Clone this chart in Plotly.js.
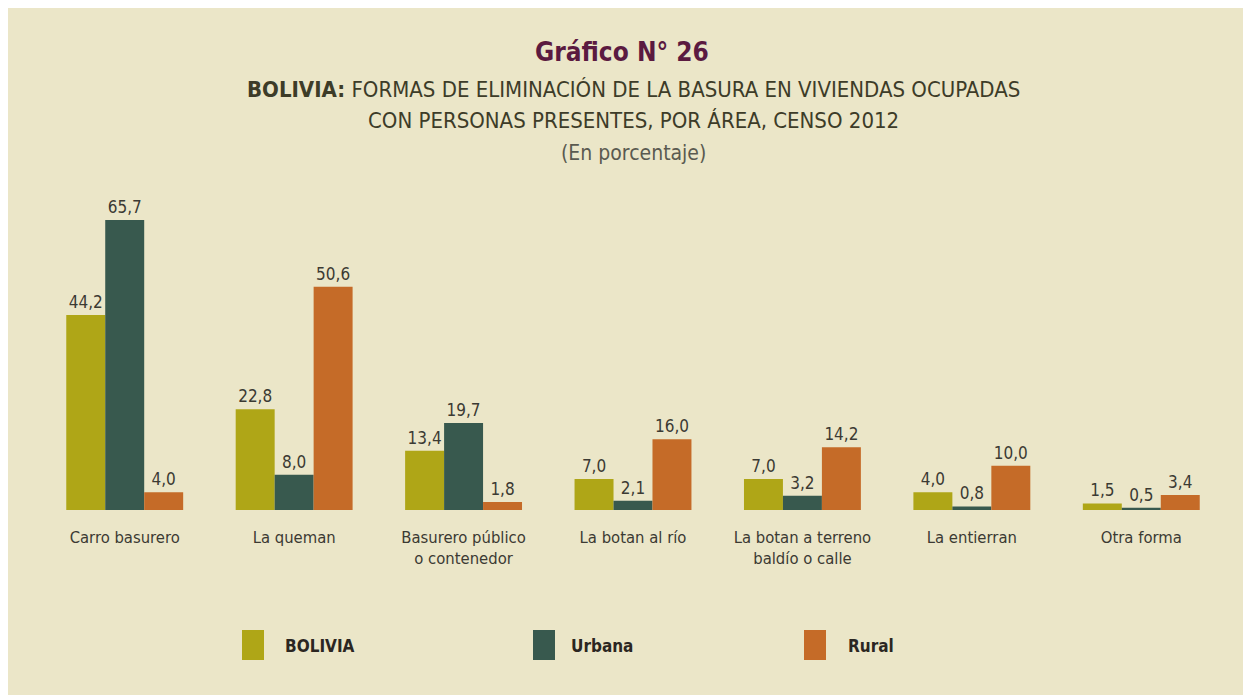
<!DOCTYPE html>
<html>
<head>
<meta charset="utf-8">
<script src="https://cdn.plot.ly/plotly-3.0.1.min.js"></script>
<style>
html,body{margin:0;padding:0;background:#ffffff;}
#chart{width:1243px;height:695px;}
</style>
</head>
<body>
<div id="chart"></div>
<script>
const categories = ["Carro basurero", "La queman", "Basurero público<br>o contenedor", "La botan al río", "La botan a terreno<br>baldío o calle", "La entierran", "Otra forma"];
const seriesNames = ["BOLIVIA", "Urbana", "Rural"];
const bolivia = [44.2, 22.8, 13.4, 7.0, 7.0, 4.0, 1.5];
const urbana = [65.7, 8.0, 19.7, 2.1, 3.2, 0.8, 0.5];
const rural = [4.0, 50.6, 1.8, 16.0, 14.2, 10.0, 3.4];
const colors = ["#afa617", "#38594e", "#c56b28"];

const W = 1243, H = 695;
const M = {l: 40, r: 17, t: 201, b: 185};
const plotW = W - M.l - M.r, plotH = H - M.t - M.b;
const px = x => (x - M.l) / plotW;
const py = y => (H - M.b - y) / plotH;

const FAM = "DejaVu Sans Condensed, Liberation Sans Narrow, sans-serif";
const labelFont = {family: FAM, size: 16.5, color: "#3b3a33"};
const valueFont = {family: FAM, size: 17, color: "#3b3a33"};
const fmt = v => v.toFixed(1).replace(".", ",");

const seriesVals = [bolivia, urbana, rural];
const traces = seriesVals.map((vals, i) => ({
  type: "bar",
  name: seriesNames[i],
  x: categories,
  y: vals,
  marker: {color: colors[i], line: {width: 0}},
  text: vals.map(fmt),
  textposition: "outside",
  textfont: valueFont,
  cliponaxis: false,
  hoverinfo: "skip",
  showlegend: false
}));

const shapes = [{
  type: "rect", xref: "paper", yref: "paper",
  x0: px(8), x1: px(W + 5), y0: py(8), y1: py(H + 5),
  fillcolor: "#ebe6c8", line: {width: 0}, layer: "below"
}];
const annotations = [
  {text: "<b>Gráfico N° 26</b>", x: px(622), y: py(52), font: {family: FAM, size: 26, color: "#5b1a40"}},
  {text: "<b>BOLIVIA:</b> FORMAS DE ELIMINACIÓN DE LA BASURA EN VIVIENDAS OCUPADAS", x: px(633), y: py(89), font: {family: FAM, size: 22, color: "#3d3c28"}},
  {text: "CON PERSONAS PRESENTES, POR ÁREA, CENSO 2012", x: px(633), y: py(121), font: {family: FAM, size: 22, color: "#3d3c28"}},
  {text: "(En porcentaje)", x: px(633), y: py(153), font: {family: FAM, size: 21, color: "#5a5a50"}}
].map(a => Object.assign({xref: "paper", yref: "paper", showarrow: false, xanchor: "center", yanchor: "middle"}, a));

const legendX = [242, 533, 804];
const legendTextX = [285, 571, 848];
seriesNames.forEach((n, i) => {
  shapes.push({type: "rect", xref: "paper", yref: "paper",
    x0: px(legendX[i]), x1: px(legendX[i] + 22), y0: py(630), y1: py(660),
    fillcolor: colors[i], line: {width: 0}});
  annotations.push({text: "<b>" + n + "</b>", xref: "paper", yref: "paper", showarrow: false,
    x: px(legendTextX[i]), y: py(646), xanchor: "left", yanchor: "middle", xshift: -2,
    font: {family: FAM, size: 17, color: "#2b2622"}});
});

const layout = {
  width: W, height: H,
  margin: M,
  paper_bgcolor: "#ffffff",
  plot_bgcolor: "rgba(0,0,0,0)",
  barmode: "group",
  bargap: 0.31,
  bargroupgap: 0,
  showlegend: false,
  xaxis: {type: "category", tickfont: labelFont, showgrid: false, zeroline: false, showline: false, ticks: "", ticklen: 0, ticklabelstandoff: 15},
  yaxis: {range: [0, 70], visible: false, showgrid: false, zeroline: false},
  shapes: shapes,
  annotations: annotations
};

Plotly.newPlot("chart", traces, layout, {displayModeBar: false, staticPlot: true});
</script>
</body>
</html>
